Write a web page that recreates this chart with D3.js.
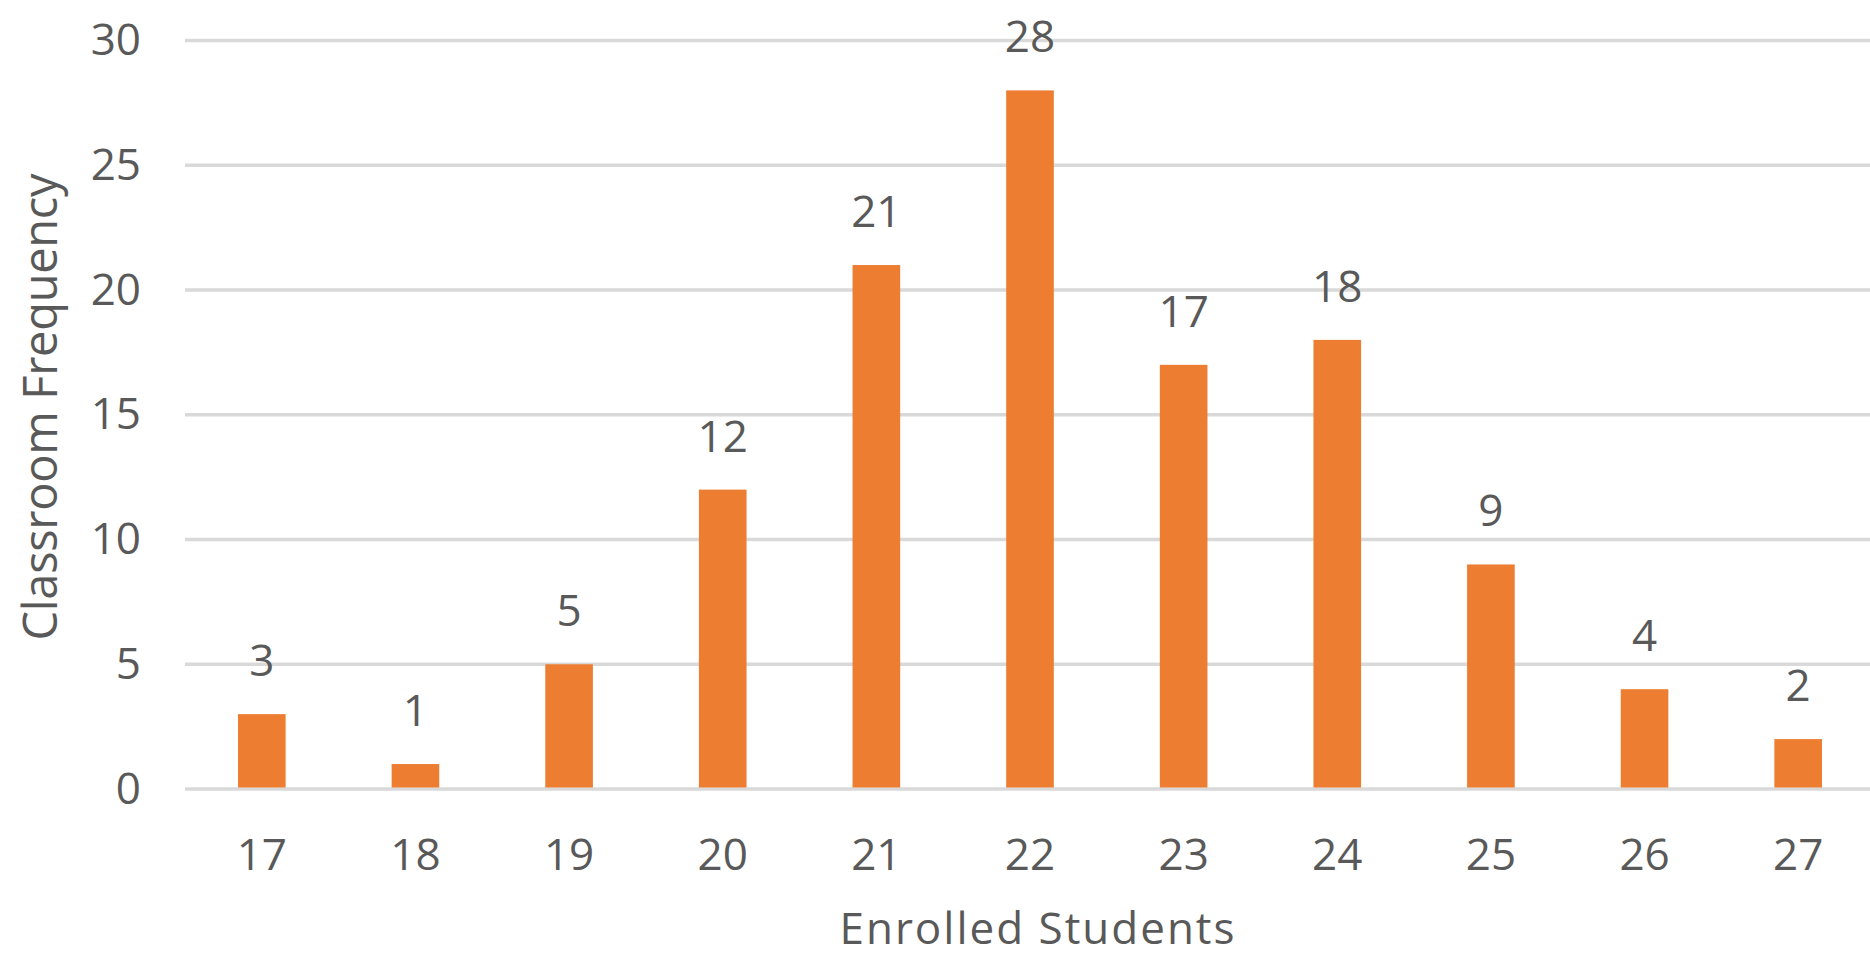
<!DOCTYPE html>
<html lang="en">
<head>
<meta charset="UTF-8">
<title>Classroom Frequency</title>
<script src="https://cdn.jsdelivr.net/npm/d3@7"></script>
<style>
  body { margin: 0; background: #fff; }
  text { font-family: "Open Sans", "Noto Sans", sans-serif; fill: #595959; }
</style>
</head>
<body>
<svg></svg>
<script>
    const width = 1870, height = 958;

    // data
    const students = ['17', '18', '19', '20', '21', '22', '23', '24', '25', '26', '27'];
    const frequency = [3, 1, 5, 12, 21, 28, 17, 18, 9, 4, 2];
    const yTicks = [0, 5, 10, 15, 20, 25, 30];

    const svg = d3.select('svg')
        .attr('width', width)
        .attr('height', height);

    const x = d3.scaleBand()
        .domain(students)
        .range([185, 1875])
        .paddingInner(0.69)
        .paddingOuter(0.345);

    const y = d3.scaleLinear()
        .domain([0, 30])
        .range([789, 40.5]);

    // gridlines
    svg.append('g')
        .selectAll('line')
        .data(yTicks)
        .join('line')
        .attr('x1', 185)
        .attr('x2', width)
        .attr('y1', d => y(d))
        .attr('y2', d => y(d))
        .attr('stroke', '#d9d9d9')
        .attr('stroke-width', 3.5);

    // y tick labels
    svg.append('g')
        .selectAll('text')
        .data(yTicks)
        .join('text')
        .attr('x', 141)
        .attr('y', d => y(d))
        .attr('dy', '0.33em')
        .attr('text-anchor', 'end')
        .attr('font-size', 44)
        .text(d => d);

    // bars
    svg.append('g')
        .selectAll('rect')
        .data(frequency)
        .join('rect')
        .attr('x', (d, i) => x(students[i]))
        .attr('width', x.bandwidth())
        .attr('y', d => y(d))
        .attr('height', d => y(0) - y(d) - 1.5)
        .attr('fill', '#ed7d31');

    // value labels
    svg.append('g')
        .selectAll('text')
        .data(frequency)
        .join('text')
        .attr('x', (d, i) => x(students[i]) + x.bandwidth() / 2)
        .attr('y', d => y(d) - 38)
        .attr('text-anchor', 'middle')
        .attr('font-size', 44)
        .text(d => d);

    // x tick labels
    svg.append('g')
        .selectAll('text')
        .data(students)
        .join('text')
        .attr('x', d => x(d) + x.bandwidth() / 2)
        .attr('y', 870)
        .attr('text-anchor', 'middle')
        .attr('font-size', 44)
        .text(d => d);

    // axis titles
    svg.append('text')
        .attr('x', 1037)
        .attr('y', 944)
        .attr('text-anchor', 'middle')
        .attr('font-size', 44)
        .attr('textLength', 395)
        .attr('lengthAdjust', 'spacing')
        .text('Enrolled Students');

    svg.append('text')
        .attr('transform', 'translate(57, 407) rotate(-90)')
        .attr('text-anchor', 'middle')
        .attr('font-size', 47)
        .attr('textLength', 467)
        .attr('lengthAdjust', 'spacing')
        .text('Classroom Frequency');
</script>
</body>
</html>
